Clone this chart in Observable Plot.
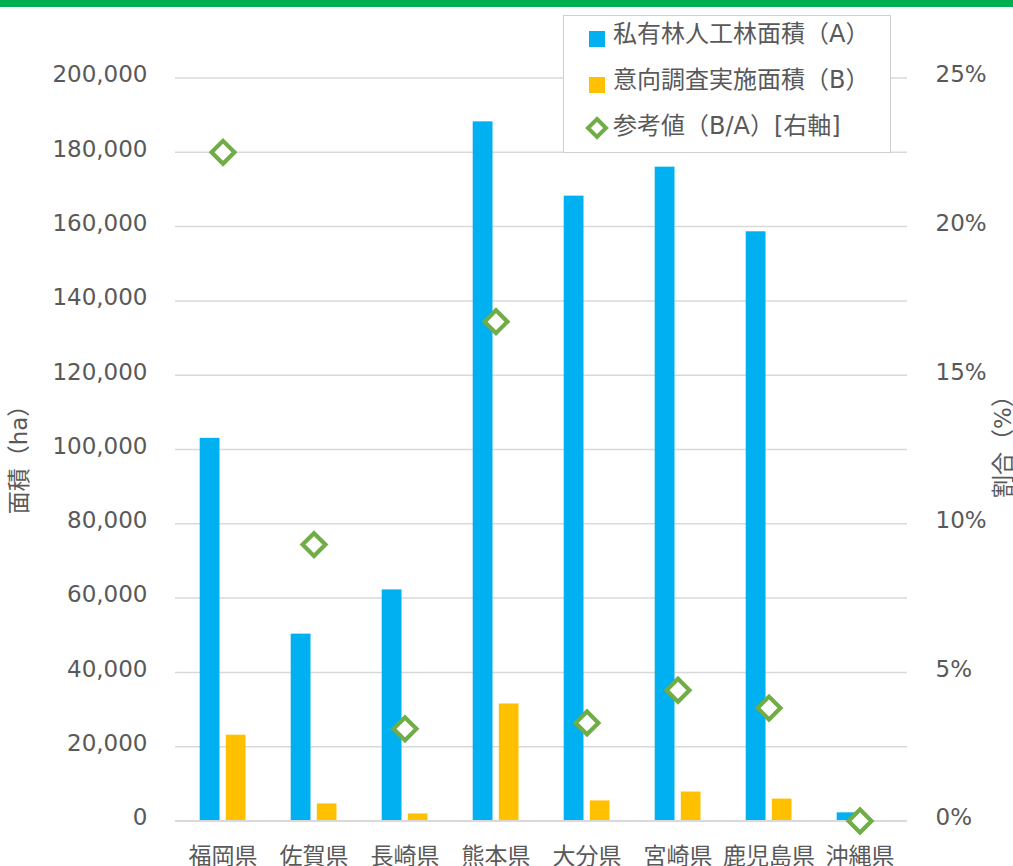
<!DOCTYPE html>
<html><head><meta charset="utf-8">
<script src="https://cdn.jsdelivr.net/npm/d3@7"></script>
<script src="https://cdn.jsdelivr.net/npm/@observablehq/plot@0.6"></script>
<style>
body{margin:0;background:#fff;}
#wrap{position:relative;width:1013px;height:866px;overflow:hidden;font-family:"DejaVu Sans","Noto Sans CJK JP",sans-serif;color:#595959;}
.abs{position:absolute;white-space:nowrap;}
.lg{position:absolute;white-space:nowrap;font-size:24px;line-height:30px;height:30px;}
.rot{position:absolute;white-space:nowrap;font-size:23px;transform:translate(-50%,-50%) rotate(-90deg);}
</style></head><body>
<div id="wrap"></div>
<script>
// ---- data ----
const prefectures = ["福岡県","佐賀県","長崎県","熊本県","大分県","宮崎県","鹿児島県","沖縄県"];
const plantedArea  = [103000, 50300, 62200, 188200, 168200, 176000, 158600, 2200];   // 私有林人工林面積（A）
const surveyedArea = [23100, 4600, 1900, 31500, 5400, 7800, 5900, 0];                // 意向調査実施面積（B）
const ratioPct     = [22.5, 9.3, 3.1, 16.8, 3.3, 4.4, 3.8, 0];                       // 参考値（B/A）[右軸]
const leftTicks  = [0,20000,40000,60000,80000,100000,120000,140000,160000,180000,200000];
const rightTicks = [0,5,10,15,20,25];
const seriesNames = ["私有林人工林面積（A）","意向調査実施面積（B）","参考値（B/A）[右軸]"];
const yTitle = "面積（ha）";
const y2Title = "割合（%）";

const K = 200000 / 25; // right axis (%) mapped onto left axis units
const rows = prefectures.map((p, i) => ({p, a: plantedArea[i], b: surveyedArea[i], r: ratioPct[i] * K}));

const font = '"DejaVu Sans","Noto Sans CJK JP",sans-serif';
const chart = Plot.plot({
  width: 1013, height: 866,
  marginLeft: 175, marginRight: 106, marginTop: 77.5, marginBottom: 45.5,
  style: {fontFamily: font, fontSize: "23px", color: "#595959", background: "transparent", overflow: "visible"},
  x: {domain: prefectures, padding: 0, label: null},
  y: {domain: [0, 200000], label: null},
  marks: [
    Plot.gridY(leftTicks, {stroke: "#d9d9d9", strokeOpacity: 1, strokeWidth: 1.5}),
    Plot.barY(rows, {x: "p", y: "a", fill: "#00B0F0", insetLeft: 22.7, insetRight: 48.5}),
    Plot.barY(rows, {x: "p", y: "b", fill: "#FFC000", insetLeft: 48.8, insetRight: 22.5}),
    Plot.ruleY([0], {stroke: "#d9d9d9", strokeWidth: 2}),
    Plot.dot(rows, {x: "p", y: "r", symbol: "diamond2", r: 10.3, stroke: "#70AD47", strokeWidth: 4.2, fill: "white"}),
    Plot.axisY(leftTicks, {anchor: "left", tickSize: 0, tickPadding: 28, tickFormat: d3.format(","), label: null, dy: -3}),
    Plot.axisY(rightTicks.map(t => t * K), {anchor: "right", tickSize: 0, tickPadding: 28, tickFormat: d => (d / K) + "%", label: null, dy: -3}),
    Plot.axisX({tickSize: 0, tickPadding: 27, label: null})
  ]
});

const wrap = document.getElementById("wrap");
chart.style.position = "absolute"; chart.style.left = "0"; chart.style.top = "0";
wrap.appendChild(chart);

// top green band
const band = document.createElement("div");
band.className = "abs";
Object.assign(band.style, {left: "0", top: "0", width: "1013px", height: "7px", background: "#00B050"});
wrap.appendChild(band);

// axis titles
const t1 = document.createElement("div"); t1.className = "rot"; t1.textContent = yTitle;
Object.assign(t1.style, {left: "17px", top: "454px"}); wrap.appendChild(t1);
const t2 = document.createElement("div"); t2.className = "rot"; t2.textContent = y2Title;
Object.assign(t2.style, {left: "1001px", top: "441px"}); wrap.appendChild(t2);

// legend
const box = document.createElement("div"); box.className = "abs";
Object.assign(box.style, {left: "563px", top: "15px", width: "326px", height: "136px", border: "1px solid #cfcfcf", background: "#fff"});
wrap.appendChild(box);
const swatchColors = ["#00B0F0", "#FFC000"];
const tops = [19, 65, 111];
seriesNames.forEach((name, i) => {
  const t = document.createElement("div"); t.className = "lg"; t.textContent = name;
  Object.assign(t.style, {left: "613px", top: tops[i] + "px"}); wrap.appendChild(t);
  if (i < 2) {
    const s = document.createElement("div"); s.className = "abs";
    Object.assign(s.style, {left: "589px", top: (31 + 46 * i) + "px", width: "16px", height: "16px", background: swatchColors[i]});
    wrap.appendChild(s);
  } else {
    const ns = "http://www.w3.org/2000/svg";
    const sv = document.createElementNS(ns, "svg");
    sv.setAttribute("width", "26"); sv.setAttribute("height", "26");
    Object.assign(sv.style, {position: "absolute", left: "584px", top: "115px"});
    const pth = document.createElementNS(ns, "path");
    pth.setAttribute("d", "M13,4L22,13L13,22L4,13Z");
    pth.setAttribute("fill", "white"); pth.setAttribute("stroke", "#70AD47"); pth.setAttribute("stroke-width", "4");
    sv.appendChild(pth); wrap.appendChild(sv);
  }
});
</script>
</body></html>
